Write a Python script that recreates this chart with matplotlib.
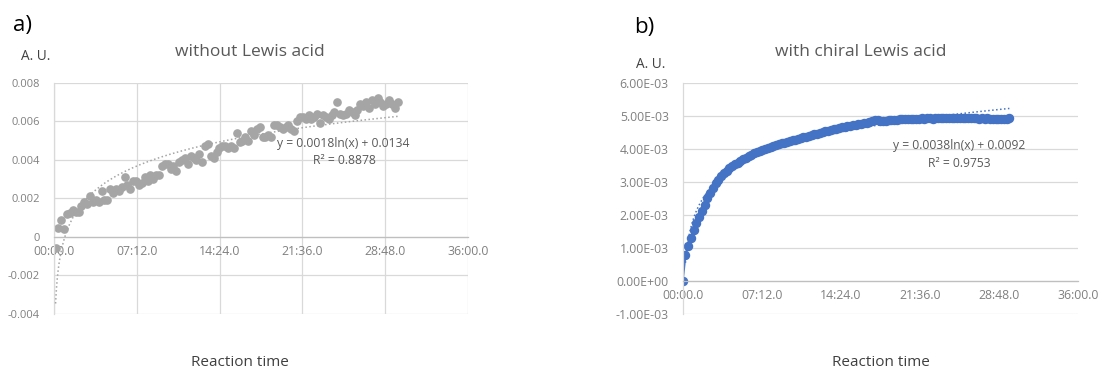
import numpy as np
import matplotlib
matplotlib.use("Agg")
import matplotlib.pyplot as plt
from matplotlib.ticker import FuncFormatter, MultipleLocator

plt.rcParams["font.family"] = ["Open Sans", "DejaVu Sans"]

# sampling: one reading every 15 s (minutes)
STEP_MIN = 0.25
START_A = 0.14   # first reading in panel a (min)

# panel a: without Lewis acid (A. U.)
y_a = [
    -0.0006, 0.00045, 0.00088, 0.00042,
    0.0012, 0.00125, 0.0014, 0.0013,
    0.0013, 0.0016, 0.0018, 0.0017,
    0.0021, 0.0018, 0.0019, 0.0018,
    0.0024, 0.0019, 0.0019, 0.0025,
    0.0023, 0.0025, 0.0024, 0.0026,
    0.0031, 0.0027, 0.0025, 0.0029,
    0.0029, 0.0027, 0.0028, 0.0031,
    0.0029, 0.0032, 0.0030, 0.0032,
    0.0032, 0.0037, 0.0038, 0.0038,
    0.0035, 0.0037, 0.0034, 0.0039,
    0.0040, 0.0041, 0.0038, 0.0042,
    0.0041, 0.0040, 0.0043, 0.0039,
    0.0047, 0.0048, 0.0042, 0.0041,
    0.0044, 0.0046, 0.0047, 0.0047,
    0.0046, 0.0047, 0.0046, 0.0054,
    0.0049, 0.0050, 0.0052, 0.0050,
    0.0055, 0.0053, 0.0056, 0.0057,
    0.0052, 0.0052, 0.0053, 0.0052,
    0.0058, 0.0058, 0.0057, 0.0056,
    0.0057, 0.0058, 0.0056, 0.0055,
    0.0060, 0.0062, 0.0062, 0.0061,
    0.0063, 0.0061, 0.0062, 0.0064,
    0.0059, 0.0063, 0.0062, 0.0061,
    0.0063, 0.0065, 0.0070, 0.0064,
    0.0063, 0.0064, 0.0066, 0.0065,
    0.0063, 0.0066, 0.0069, 0.0068,
    0.0070, 0.0067, 0.0071, 0.0069,
    0.0072, 0.0070, 0.0068, 0.0069,
    0.0071, 0.0069, 0.0067, 0.0070,
]

# panel b: with chiral Lewis acid (A. U.)
y_b = [
    0.0, 0.00078, 0.00107, 0.00131, 0.00154, 0.00174, 0.00193, 0.00212,
    0.00231, 0.00250, 0.00266, 0.00281, 0.00295, 0.00306, 0.00317, 0.00326,
    0.00334, 0.00341, 0.00347, 0.00353, 0.00358, 0.00363, 0.00368, 0.00373,
    0.00378, 0.00382, 0.00386, 0.00390, 0.00393, 0.00396, 0.00399, 0.00402,
    0.00405, 0.00408, 0.00411, 0.00413, 0.00416, 0.00418, 0.00421, 0.00423,
    0.00426, 0.00428, 0.00431, 0.00433, 0.00435, 0.00437, 0.00440, 0.00442,
    0.00444, 0.00446, 0.00448, 0.00450, 0.00453, 0.00455, 0.00457, 0.00459,
    0.00461, 0.00463, 0.00465, 0.00466, 0.00468, 0.00470, 0.00472, 0.00473,
    0.00475, 0.00476, 0.00478, 0.00479, 0.00481, 0.00483, 0.00486, 0.00487,
    0.00485, 0.00484, 0.00485, 0.00486, 0.00487, 0.00488, 0.00488, 0.00489,
    0.00489,
    0.00490, 0.00490, 0.00491, 0.00490, 0.00491, 0.00491, 0.00492, 0.00491,
    0.00492, 0.00492, 0.00491, 0.00492, 0.00493, 0.00492, 0.00492, 0.00493,
    0.00492, 0.00493, 0.00492, 0.00493, 0.00493, 0.00492, 0.00493, 0.00492,
    0.00492, 0.00493, 0.00492, 0.00491, 0.00492, 0.00491, 0.00492, 0.00491,
    0.00490, 0.00491, 0.00490, 0.00489, 0.00490, 0.00491, 0.00493,
]

t_a = START_A + STEP_MIN * np.arange(len(y_a))
t_b = STEP_MIN * np.arange(len(y_b))
y_a = np.array(y_a)
y_b = np.array(y_b)

x_ticks = [0, 7.2, 14.4, 21.6, 28.8, 36.0]
eq_a = ["y = 0.0018ln(x) + 0.0134", "R² = 0.8878"]
eq_b = ["y = 0.0038ln(x) + 0.0092", "R² = 0.9753"]

GRID = "#D9D9D9"
TICK = "#808080"
TXT = "#595959"
GRAY = "#A5A5A5"
BLUE = "#4472C4"


def mmss(v, _pos=None):
    m = int(v + 1e-9)
    s = (v - m) * 60
    return f"{m:02d}:{s:04.1f}"


def style_axes(ax, ylim, ystep, yfmt, vgrid, ysize):
    ax.set_xlim(0, 36)
    ax.set_ylim(*ylim)
    ax.set_xticks(x_ticks)
    ax.xaxis.set_major_formatter(FuncFormatter(mmss))
    ax.yaxis.set_major_locator(MultipleLocator(ystep))
    ax.yaxis.set_major_formatter(FuncFormatter(yfmt))
    ax.grid(axis="y", color=GRID, lw=0.9)
    if vgrid:
        ax.grid(axis="x", color=GRID, lw=0.9)
    ax.set_axisbelow(True)
    for s in ["top", "right"]:
        ax.spines[s].set_visible(False)
    ax.spines["left"].set_color(GRID)
    ax.spines["left"].set_linewidth(0.9)
    ax.spines["bottom"].set_position(("data", 0))
    ax.spines["bottom"].set_color("#BFBFBF")
    ax.spines["bottom"].set_linewidth(0.9)
    ax.tick_params(length=0, labelcolor=TICK)
    ax.tick_params(axis="y", pad=10, labelsize=ysize)
    ax.tick_params(axis="x", pad=6, labelsize=8.8)


def log_trend(ax, t, y, color):
    m = t > 0
    k, c = np.polyfit(np.log(t[m]), y[m], 1)
    tt = np.linspace(t[m][0], t[m][-1], 400)
    ax.plot(tt, k * np.log(tt) + c, color=color, ls=(0, (1, 1.6)), lw=1.1, zorder=3)


fig = plt.figure(figsize=(10.99, 3.69), dpi=100)
axA = fig.add_axes([0.0491, 0.1491, 0.3767, 0.6268])
axB = fig.add_axes([0.6212, 0.1491, 0.3597, 0.6268])

# Panel a
style_axes(axA, (-0.004, 0.008), 0.002,
           lambda v, p: "0" if abs(v) < 1e-12 else f"{v:.3f}", True, 8)
axA.plot(t_a, y_a, "o", color=GRAY, ms=5.2, mec=GRAY, zorder=2)
log_trend(axA, t_a, y_a, GRAY)

# Panel b
style_axes(axB, (-0.001, 0.006), 0.001, lambda v, p: f"{v:.2E}", False, 8.8)
axB.plot(t_b, y_b, "o-", color=BLUE, ms=5.8, lw=1.5, zorder=2)
log_trend(axB, t_b, y_b, BLUE)


def fx(px):
    return px / 1099


def fy(py):
    return 1 - py / 369


fig.text(fx(22), fy(26), "a)", fontsize=16, ha="center", va="center", color="black")
fig.text(fx(644), fy(28), "b)", fontsize=16, ha="center", va="center", color="black")
fig.text(fx(36), fy(57), "A. U.", fontsize=9.8, ha="center", va="center", color="#404040")
fig.text(fx(651), fy(64), "A. U.", fontsize=9.8, ha="center", va="center", color="#404040")
fig.text(fx(250), fy(52), "without Lewis acid", fontsize=12.5, ha="center", va="center", color=TXT)
fig.text(fx(861), fy(52), "with chiral Lewis acid", fontsize=12.5, ha="center", va="center", color=TXT)
fig.text(fx(240), fy(362), "Reaction time", fontsize=11, ha="center", va="center", color="#404040")
fig.text(fx(881), fy(362), "Reaction time", fontsize=11, ha="center", va="center", color="#404040")
for (line, py), px in zip(zip(eq_a, [143, 160]), [343, 344]):
    fig.text(fx(px), fy(py), line, fontsize=8.7, ha="center", va="center", color=TXT)
for (line, py), px in zip(zip(eq_b, [146, 163]), [959, 959]):
    fig.text(fx(px), fy(py), line, fontsize=8.7, ha="center", va="center", color=TXT)

fig.savefig("out.png", dpi=100, facecolor="white")
